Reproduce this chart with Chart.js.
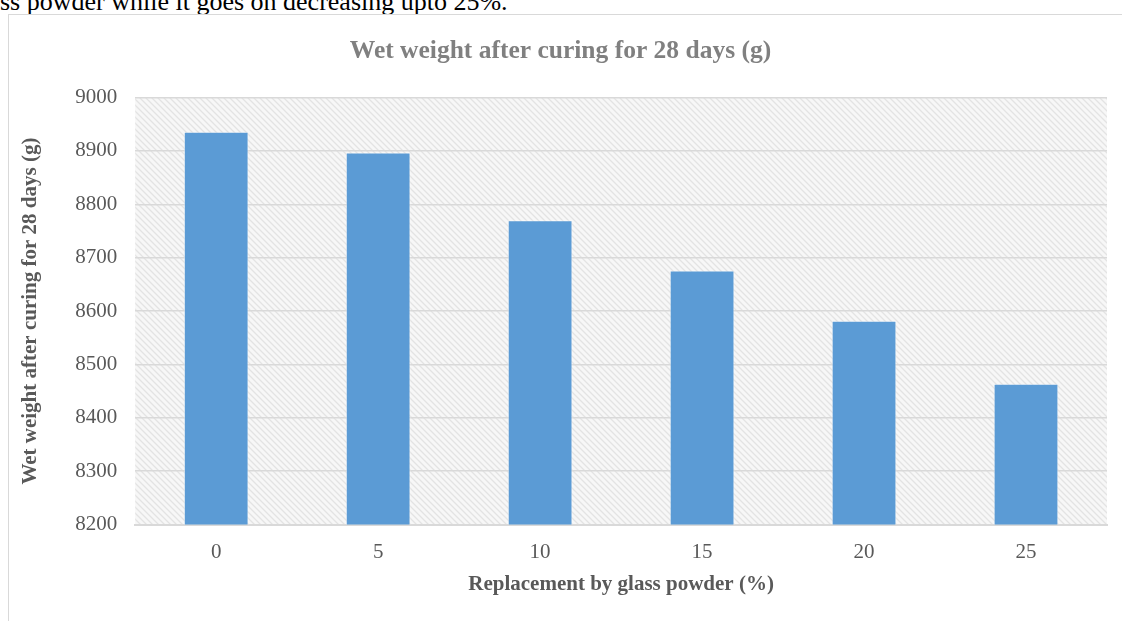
<!DOCTYPE html>
<html>
<head>
<meta charset="utf-8">
<script src="https://cdn.jsdelivr.net/npm/chart.js@4"></script>
<style>
  body { margin: 0; background: #fff; overflow: hidden; }
  #doctext { position: absolute; left: 0; top: -11px; font: 26px/26px "Liberation Serif", serif; color: #000; white-space: nowrap; }
  #box { position: absolute; left: 8px; top: 14px; width: 1126px; height: 640px; border: 1.5px solid #d9d9d9; box-sizing: border-box; }
</style>
</head>
<body>
<div id="doctext">ss powder while it goes on decreasing upto 25%.</div>
<div id="box"><canvas id="wetChart"></canvas></div>
<script>
  const replacement = ['0', '5', '10', '15', '20', '25'];
  const wetWeight = [8936, 8897, 8770, 8676, 8582, 8464];
  const chartTitle = 'Wet weight after curing for 28 days (g)';
  const xTitle = 'Replacement by glass powder (%)';
  const yTitle = 'Wet weight after curing for 28 days (g)';

  // diagonal hatch for the plot area
  const hatch = document.createElement('canvas');
  hatch.width = 6; hatch.height = 6;
  const hctx = hatch.getContext('2d');
  hctx.fillStyle = '#f7f7f7';
  hctx.fillRect(0, 0, 6, 6);
  hctx.strokeStyle = '#e3e3e3';
  hctx.lineWidth = 1.3;
  hctx.beginPath();
  hctx.moveTo(-1, -1); hctx.lineTo(7, 7);
  hctx.moveTo(-4, 2); hctx.lineTo(4, 10);
  hctx.moveTo(2, -4); hctx.lineTo(10, 4);
  hctx.stroke();

  const hatchBg = {
    id: 'hatchBg',
    beforeDraw(chart) {
      const { ctx, chartArea: a } = chart;
      ctx.save();
      ctx.fillStyle = ctx.createPattern(hatch, 'repeat');
      ctx.fillRect(a.left, a.top, a.right - a.left, a.bottom - a.top);
      ctx.restore();
    }
  };

  const canvas = document.getElementById('wetChart');
  canvas.width = 1123; canvas.height = 600;
  canvas.style.width = '1123px'; canvas.style.height = '600px';

  const serif = 'Liberation Serif';

  new Chart(canvas.getContext('2d'), {
    type: 'bar',
    data: {
      labels: replacement,
      datasets: [{
        data: wetWeight,
        backgroundColor: '#5b9bd5',
        borderColor: 'rgba(255,255,255,0.5)',
        borderWidth: 1,
        barPercentage: 0.4,
        categoryPercentage: 1
      }]
    },
    options: {
      responsive: false,
      animation: false,
      layout: { padding: { left: 5, right: 25, top: 8, bottom: 18 } },
      plugins: {
        legend: { display: false },
        tooltip: { enabled: false },
        title: {
          display: true,
          text: chartTitle,
          color: '#808080',
          font: { family: serif, size: 25.5, weight: 'bold' },
          padding: { top: 13, bottom: 31 }
        }
      },
      scales: {
        x: {
          grid: { display: false, drawTicks: false },
          border: { color: '#d9d9d9', width: 2 },
          ticks: { color: '#595959', font: { family: serif, size: 21 }, padding: 15 },
          title: {
            display: true,
            text: xTitle,
            color: '#595959',
            font: { family: serif, size: 21, weight: 'bold' },
            padding: { top: -8, bottom: 0 }
          }
        },
        y: {
          min: 8200,
          max: 9000,
          grid: { color: '#d9d9d9', lineWidth: 1.5, drawTicks: false },
          border: { display: false },
          ticks: {
            stepSize: 100,
            color: '#595959',
            font: { family: serif, size: 21 },
            padding: 18,
            callback: v => String(v)
          },
          title: {
            display: true,
            text: yTitle,
            color: '#595959',
            font: { family: serif, size: 21, weight: 'bold' },
            padding: { bottom: 14 }
          }
        }
      }
    },
    plugins: [hatchBg]
  });
</script>
</body>
</html>
